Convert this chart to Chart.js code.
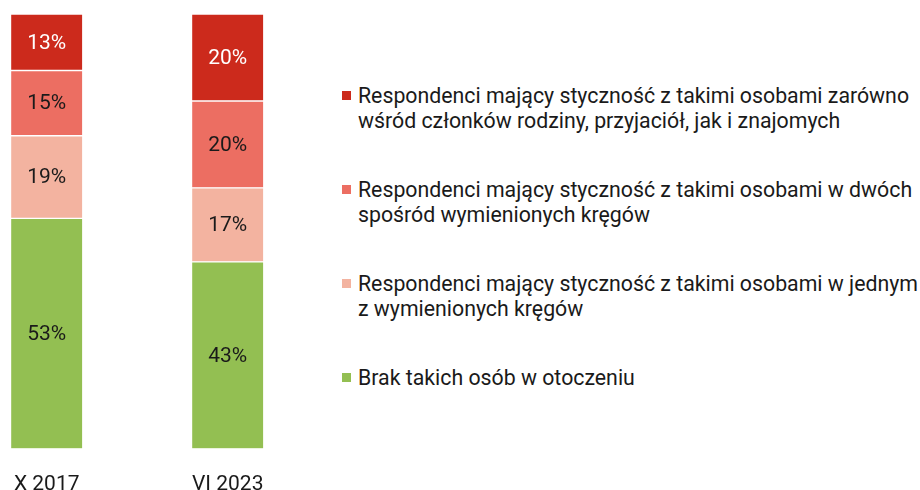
<!DOCTYPE html>
<html lang="pl">
<head>
<meta charset="utf-8">
<script src="https://cdn.jsdelivr.net/npm/chart.js@4/dist/chart.umd.min.js"></script>
<style>
  html, body { margin: 0; padding: 0; background: #fff; overflow: hidden; }
  body { width: 920px; height: 490px; position: relative; font-family: Roboto, "Noto Sans", sans-serif; }
  #chart-wrap { position: absolute; left: -100px; top: 0; width: 430px; height: 520px; }
  #legend { position: absolute; left: 342px; top: 83px; width: 578px; margin: 0; padding: 0; list-style: none; }
  #legend li { position: relative; height: 94px; padding-left: 16px; font-size: 21.3px; line-height: 25px; color: #1a1a1a; }
  #legend li span { position: absolute; left: 0; top: 8px; width: 9px; height: 9px; }
</style>
</head>
<body>
<div id="chart-wrap"><canvas id="chart"></canvas></div>
<ul id="legend"></ul>
<script>
const periods = ["X 2017", "VI 2023"];
const seriesNames = [
  "Brak takich osób w otoczeniu",
  "Respondenci mający styczność z takimi osobami w jednym z wymienionych kręgów",
  "Respondenci mający styczność z takimi osobami w dwóch spośród wymienionych kręgów",
  "Respondenci mający styczność z takimi osobami zarówno wśród członków rodziny, przyjaciół, jak i znajomych"
];
const noneValues = [53, 43];
const oneCircleValues = [19, 17];
const twoCirclesValues = [15, 20];
const allCirclesValues = [13, 20];
const seriesColors = ["#93bf52", "#f3b3a0", "#ec6e62", "#cc2a1c"];
const labelColors = ["#1a1a1a", "#1a1a1a", "#1a1a1a", "#ffffff"];

const seriesValues = [noneValues, oneCircleValues, twoCirclesValues, allCirclesValues];

const segmentLabels = {
  id: "segmentLabels",
  afterDatasetsDraw(chart) {
    const ctx = chart.ctx;
    ctx.save();
    ctx.font = "21px Roboto, 'Noto Sans', sans-serif";
    ctx.textAlign = "center";
    ctx.textBaseline = "middle";
    chart.data.datasets.forEach((ds, i) => {
      const meta = chart.getDatasetMeta(i);
      ctx.fillStyle = labelColors[i];
      meta.data.forEach((bar, j) => {
        ctx.fillText(ds.data[j] + "%", bar.x, (bar.y + bar.base) / 2 + 1);
      });
    });
    ctx.restore();
  }
};

new Chart(document.getElementById("chart"), {
  type: "bar",
  data: {
    labels: periods,
    datasets: seriesValues.map((values, i) => ({
      label: seriesNames[i],
      data: values,
      backgroundColor: seriesColors[i],
      borderColor: "#ffffff",
      borderWidth: { top: 1, bottom: 1, left: 0, right: 0 },
      borderSkipped: false,
      barThickness: 71,
    })),
  },
  options: {
    responsive: true,
    maintainAspectRatio: false,
    animation: false,
    layout: { padding: { top: 14, left: 56.2, right: 11.8, bottom: 0 } },
    plugins: { legend: { display: false }, tooltip: { enabled: false } },
    scales: {
      x: {
        stacked: true,
        grid: { display: false, drawTicks: false },
        border: { display: false },
        ticks: { padding: 23, color: "#1a1a1a", font: { family: "Roboto", size: 21 }, maxRotation: 0 },
      },
      y: { stacked: true, display: false, min: 0, max: 100 },
    },
  },
  plugins: [segmentLabels],
});

const legend = document.getElementById("legend");
for (let i = seriesNames.length - 1; i >= 0; i--) {
  const li = document.createElement("li");
  const box = document.createElement("span");
  box.style.background = seriesColors[i];
  li.appendChild(box);
  li.appendChild(document.createTextNode(seriesNames[i]));
  legend.appendChild(li);
}
</script>
</body>
</html>
